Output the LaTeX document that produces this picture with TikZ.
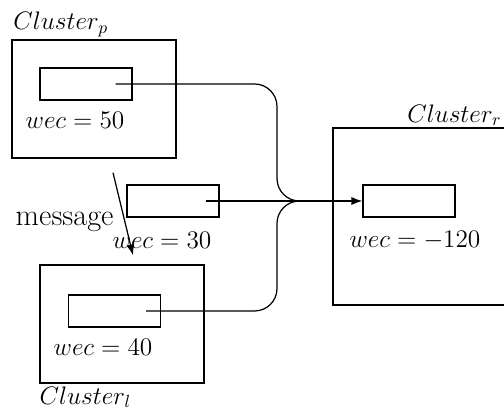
\documentclass[tikz,border=0pt]{standalone}
\usepackage{amsmath}
\usepackage{tikz}
\usetikzlibrary{arrows.meta,positioning,calc}

\begin{document}
\begin{tikzpicture}[
  font=\Large,
  cluster/.style={draw,line width=0.8pt,minimum width=32.8mm,minimum height=23.6mm,inner sep=0pt},
  slot/.style={draw,line width=0.8pt,minimum width=18.4mm,minimum height=6.4mm,inner sep=0pt},
  wire/.style={line width=0.7pt},
  >=Latex]
\useasboundingbox (0,0) rectangle (10.08,8.24);
% clusters
\node[cluster] (cp) at (1.88,6.26) {};
\node[cluster,minimum height=23.6mm] (cl) at (2.44,1.76) {};
\node[cluster,minimum width=35mm,minimum height=35.4mm] (cr) at (8.41,3.91) {};
\node[anchor=south west,inner sep=1pt] (cpname) at (cp.north west) {$Cluster_p$};
\node[anchor=north west,inner sep=0pt] (clname) at ([yshift=-0.5mm]cl.south west) {$Cluster_l$};
\node[anchor=south east,inner sep=1pt] (crname) at (10.07,5.68) {$Cluster_r$};
% slots
\node[slot] (sp) at (1.72,6.56) {};
\node[slot] (sm) at (3.46,4.22) {};
\node[slot] (sl) at (2.29,2.02) {};
\node[slot] (sr) at (8.18,4.22) {};
\node (wp) at (1.5,5.84) {$wec = 50$};
\node (wm) at (3.24,3.44) {$wec = 30$};
\node (wl) at (2.06,1.3) {$wec = 40$};
\node (wr) at (8.3,3.44) {$wec = -120$};
% joining point
\coordinate (join) at (6.0,4.22);
\draw[wire,rounded corners=4.5mm] ([xshift=-3.4mm]sp.east) -| ($(join)+(-0.46,0)$) -- (join);
\draw[wire,rounded corners=4.5mm] ([xshift=-3mm]sl.east) -| ($(join)+(-0.46,0)$) -- (join);
\draw[wire,->] ([xshift=-2.8mm]sm.east) -- (sr);
% message
\draw[wire,->] ([xshift=3.8mm,yshift=-2.8mm]cp.south) -- node[pos=0.6,left=1mm,font=\LARGE\rmfamily]{message} ([xshift=2.2mm,yshift=1.8mm]cl.north);
\end{tikzpicture}
\end{document}
